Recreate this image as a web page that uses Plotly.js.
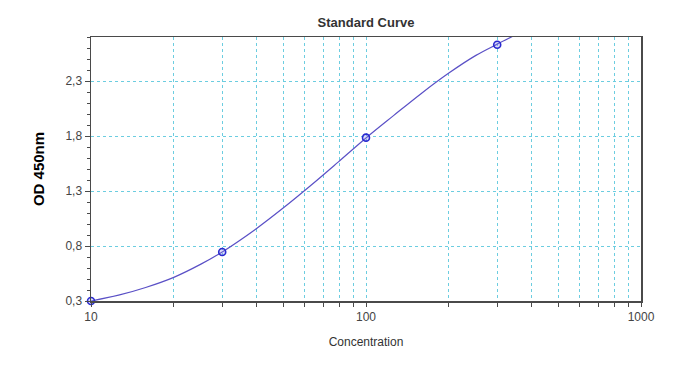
<!DOCTYPE html>
<html>
<head>
<meta charset="utf-8">
<script src="https://cdn.plot.ly/plotly-3.0.1.min.js"></script>
<style>html,body{margin:0;padding:0;background:#fff;}#chart{width:682px;height:366px;}</style>
</head>
<body>
<div id="chart"></div>
<script>
// Standard points (concentration, OD 450nm)
const stdConc = [10, 30, 100, 300];
const stdOD = [0.30, 0.745, 1.785, 2.63];

// Fitted curve
const curveConc = [10, 12.6, 15.8, 20, 25.1, 30, 39.8, 50.1, 63.1, 79.4, 100, 125.9, 158.5, 199.5, 251, 300, 345];
const curveOD = [0.30, 0.353, 0.423, 0.515, 0.635, 0.746, 0.955, 1.147, 1.352, 1.565, 1.782, 1.985, 2.185, 2.37, 2.533, 2.635, 2.712];

// Axis ticks
const xTickVals = [10,20,30,40,50,60,70,80,90,100,200,300,400,500,600,700,800,900,1000];
const xTickText = ['10','','','','','','','','','100','','','','','','','','','1000'];

const gridColor = '#6ccde0';
const axisColor = '#4a4a4a';

const traces = [
  {
    x: curveConc, y: curveOD, type: 'scatter', mode: 'lines',
    line: {color: '#5a50c6', width: 1.2, shape: 'spline', smoothing: 1},
    hoverinfo: 'skip', showlegend: false
  },
  {
    x: stdConc, y: stdOD, type: 'scatter', mode: 'markers',
    marker: {symbol: 'circle', size: 7, color: 'rgba(140,140,235,0.3)', line: {color: '#2a2ad0', width: 1.6}},
    cliponaxis: false, showlegend: false
  }
];

const layout = {
  width: 682, height: 366,
  margin: {l: 91, r: 41, t: 37, b: 65},
  paper_bgcolor: '#ffffff', plot_bgcolor: '#ffffff',
  separators: ',.',
  font: {family: 'Liberation Sans, Arial, sans-serif', color: '#444'},
  title: {
    text: '<b>Standard Curve</b>',
    font: {size: 13, color: '#333', family: 'Liberation Sans, Arial, sans-serif'},
    xref: 'paper', x: 0.5, xanchor: 'center',
    yref: 'container', y: 1 - 22/366, yanchor: 'middle'
  },
  xaxis: {
    type: 'log', range: [1, 3],
    tickmode: 'array', tickvals: xTickVals, ticktext: xTickText,
    ticks: 'outside', ticklen: 4, tickwidth: 1, tickcolor: axisColor,
    tickfont: {size: 12, color: '#444'},
    showgrid: true, gridcolor: gridColor, gridwidth: 1, griddash: 'dot',
    showline: true, linecolor: axisColor, linewidth: 1.5, mirror: true,
    zeroline: false,
    title: {text: 'Concentration', font: {size: 12, color: '#333'}, standoff: 14},
    automargin: false
  },
  yaxis: {
    range: [0.3, 2.70],
    tick0: 0.3, dtick: 0.5, tickformat: '.1f',
    ticks: 'outside', ticklen: 5, tickwidth: 1, tickcolor: axisColor,
    tickfont: {size: 12, color: '#444'},
    minor: {dtick: 0.1, tick0: 0.3, ticks: 'outside', ticklen: 3, tickcolor: axisColor, showgrid: false},
    showgrid: true, gridcolor: gridColor, gridwidth: 1, griddash: 'dot',
    showline: true, linecolor: axisColor, linewidth: 1.5, mirror: true,
    zeroline: false,
    title: {text: '<b>OD 450nm</b>', font: {size: 15, color: '#000'}, standoff: 17},
    automargin: false
  }
};

Plotly.newPlot('chart', traces, layout, {staticPlot: true, displayModeBar: false});
</script>
</body>
</html>
